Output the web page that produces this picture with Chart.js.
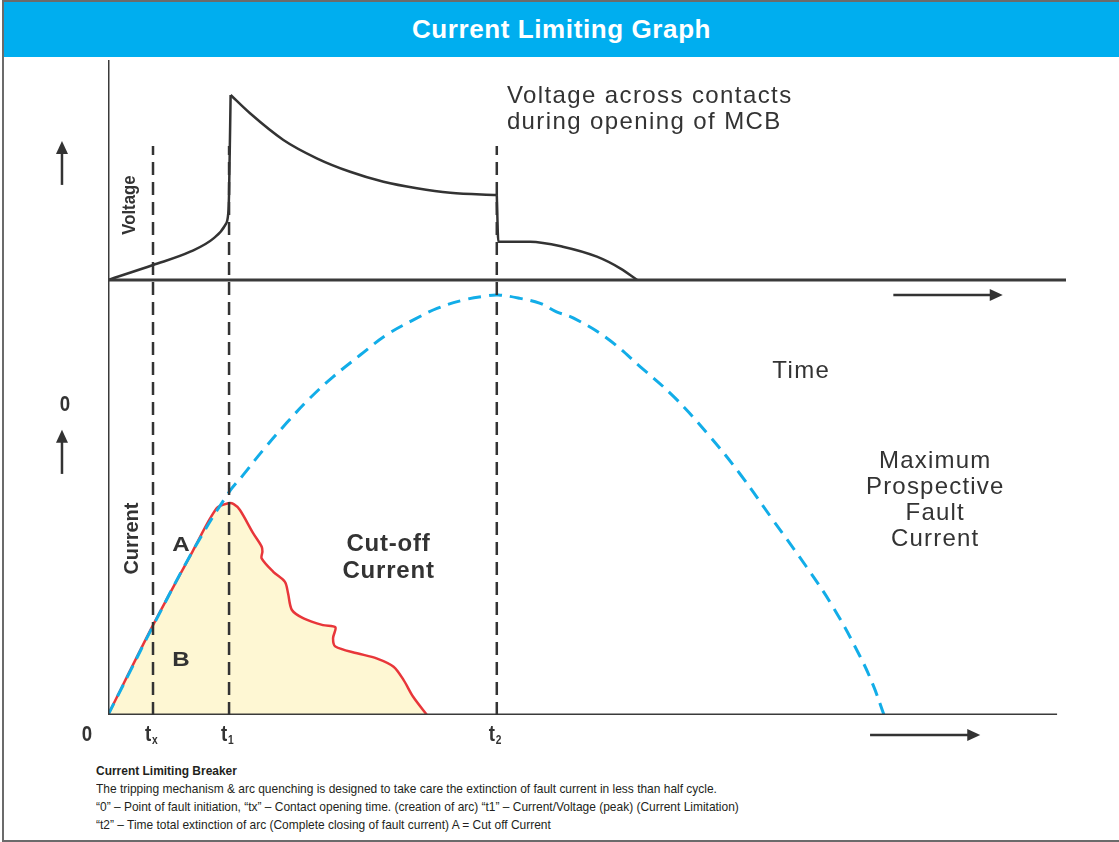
<!DOCTYPE html>
<html>
<head>
<meta charset="utf-8">
<script src="https://cdn.jsdelivr.net/npm/chart.js@4.4.1/dist/chart.umd.min.js"></script>
<style>
  body { margin: 0; background: #fff; }
  #page { position: relative; width: 1119px; height: 842px; overflow: hidden; background: #fff; }
  #frame { position: absolute; left: 2px; top: 0; width: 1117px; height: 842px; box-sizing: border-box;
           border-top: 2px solid #6b6b6b; border-left: 2px solid #6b6b6b; border-bottom: 2px solid #6b6b6b; }
  #title { position: absolute; left: 4px; top: 2px; width: 1115px; height: 55px; background: #00aeef;
           color: #fff; font: bold 26px "Liberation Sans", Arial, sans-serif; letter-spacing: 0.6px;
           text-align: center; line-height: 54px; }
  #chartBox { position: absolute; left: 0; top: 57px; width: 1119px; height: 700px; }
  #notes { position: absolute; left: 96px; top: 762px; color: #231f20; transform: scaleX(0.92); transform-origin: left top;
           font: 13px "Liberation Sans", Arial, sans-serif; line-height: 18px; white-space: nowrap; }
  #notes b { font-weight: bold; }
</style>
</head>
<body>
<div id="page">
  <div id="frame"></div>
  <div id="title">Current Limiting Graph</div>
  <div id="chartBox"><canvas id="myChart" width="1119" height="700"></canvas></div>
  <div id="notes">
    <b>Current Limiting Breaker</b><br>
    The tripping mechanism &amp; arc quenching is designed to take care the extinction of fault current in less than half cycle.<br>
    “0” – Point of fault initiation, “tx” – Contact opening time. (creation of arc) “t1” – Current/Voltage (peak) (Current Limitation)<br>
    “t2” – Time total extinction of arc (Complete closing of fault current) A = Cut off Current
  </div>
</div>
<script>
// time in ms, current in % of prospective peak, voltage in % of arc peak
const timeProspective = [0, 0.28, 0.58, 1.10, 1.55, 1.74, 2.00, 2.30, 2.60, 2.90, 3.25, 3.59, 3.93, 4.24, 4.58, 4.88, 5.03, 5.31, 5.57, 5.78, 6.00, 6.43, 6.86, 7.29, 7.72, 8.14, 8.57, 9.00, 9.35, 9.69, 9.86, 10.0];
const currentProspective = [0, 10.2, 21.2, 39.3, 52.8, 57.1, 63.1, 69.5, 75.4, 80.5, 85.7, 90.5, 94.0, 96.8, 98.8, 99.8, 100, 99.2, 98.0, 96.0, 94.5, 89.7, 82.9, 75.8, 67.1, 57.5, 46.4, 35.3, 25.5, 14.0, 7.1, 0];

const timeCutoff = [0, 0.58, 1.10, 1.40, 1.55, 1.62, 1.70, 1.87, 1.98, 1.99, 1.98, 2.13, 2.28, 2.32, 2.37, 2.52, 2.77, 2.93, 2.90, 2.93, 3.21, 3.46, 3.68, 3.81, 3.93, 4.11];
const currentCutoff = [0, 21.4, 39.3, 49.2, 50.4, 50.2, 48.8, 43.3, 40.1, 38.9, 37.3, 34.1, 31.7, 29.0, 25.0, 23.0, 21.4, 20.9, 18.3, 16.3, 14.7, 13.5, 11.5, 8.3, 4.4, 0];

const timeVoltRise = [0, 0.58, 1.06, 1.36, 1.51, 1.55, 1.56, 1.58];
const voltRise = [0, 8.1, 15.3, 22.5, 29.7, 36.1, 46.9, 100];
const timeVoltArc = [1.58, 1.83, 2.26, 2.69, 3.12, 3.55, 3.98, 4.41, 5.01];
const voltArc = [100, 90.1, 75.7, 65.8, 58.5, 53.1, 49.6, 47.2, 45.9];
const timeVoltTail = [5.01, 5.03, 5.44, 5.86, 6.30, 6.60, 6.82];
const voltTail = [45.9, 20.7, 20.7, 18.0, 12.6, 6.3, 0];

const markTimes = [0.58, 1.56, 5.01];
const markSubs = ['x', '1', '2'];
const markTop = 135.5;

const tMax = 12.345;

function pts(xs, ys) {
  return xs.map((x, i) => ({x: x, y: ys[i]}));
}

const dark = '#333333';
const font = '"Liberation Sans", Arial, sans-serif';

const datasets = [];

markTimes.forEach(function(t) {
  datasets.push({
    data: pts([t, t], [0, markTop]), yAxisID: 'yI', order: 0,
    borderColor: dark, borderWidth: 2.5, borderDash: [13, 7]
  });
});

// axis lines
datasets.push({ data: pts([0, 0], [0, 156]), yAxisID: 'yI', order: 1, borderColor: '#3a3a3a', borderWidth: 3 });
datasets.push({ data: pts([0, 12.23], [0, 0]), yAxisID: 'yI', order: 1, borderColor: '#3a3a3a', borderWidth: 3 });
datasets.push({ data: pts([0, tMax], [0, 0]), yAxisID: 'yV', order: 1, borderColor: '#3a3a3a', borderWidth: 3 });

datasets.push({
  data: pts(timeProspective, currentProspective), yAxisID: 'yI', order: 2,
  borderColor: '#12ade8', borderWidth: 3, borderDash: [13, 8], tension: 0.4
});

[[timeVoltRise, voltRise], [timeVoltArc, voltArc], [timeVoltTail, voltTail]].forEach(function(p) {
  datasets.push({
    data: pts(p[0], p[1]), yAxisID: 'yV', order: 3,
    borderColor: dark, borderWidth: 2.5, cubicInterpolationMode: 'monotone'
  });
});

datasets.push({
  data: pts(timeCutoff, currentCutoff), yAxisID: 'yI', order: 4,
  borderColor: '#e8363a', borderWidth: 2.5, tension: 0.3,
  fill: 'origin', backgroundColor: '#fef7d3'
});
datasets.push({ data: pts([0, 4.11], [0, 0]), yAxisID: 'yI', order: 4, borderColor: '#e8363a', borderWidth: 2 });

// labels placed in data units: [text, time, value, axis, style]
const notes = [
  ['Voltage across contacts', 5.14, 99.5, 'yV', 'plainL'],
  ['during opening of MCB', 5.14, 85.4, 'yV', 'plainL'],
  ['Time', 8.56, 81.7, 'yI', 'plainL'],
  ['Maximum', 10.66, 60.5, 'yI', 'plainC'],
  ['Prospective', 10.66, 54.3, 'yI', 'plainC'],
  ['Fault', 10.66, 48.1, 'yI', 'plainC'],
  ['Current', 10.66, 41.9, 'yI', 'plainC'],
  ['Cut-off', 3.615, 40.7, 'yI', 'bold'],
  ['Current', 3.615, 34.3, 'yI', 'bold'],
  ['A', 0.94, 40.5, 'yI', 'letter'],
  ['B', 0.94, 13.1, 'yI', 'letter'],
  ['0', -0.554, 73.8, 'yI', 'axis'],
  ['0', -0.271, -4.76, 'yI', 'axis']
];

const upArrows = [[-0.593, 51.4, 75.1, 'yV'], [-0.593, 57.4, 67.9, 'yI']];
const rightArrows = [[10.12, 11.53, -8.1, 'yV'], [9.82, 11.24, -4.76, 'yI']];

function drawText(ctx, s, px, py, f, align, spacing, sx) {
  ctx.save();
  ctx.font = f;
  ctx.letterSpacing = (spacing || 0) + 'px';
  ctx.textAlign = align;
  ctx.textBaseline = 'middle';
  ctx.translate(px, py);
  ctx.scale(sx || 1, 1);
  ctx.fillText(s, 0, 0);
  ctx.restore();
}

const annotate = {
  id: 'annotate',
  afterDraw(chart) {
    const ctx = chart.ctx;
    const x = chart.scales.x;
    ctx.save();
    ctx.fillStyle = dark;
    ctx.strokeStyle = dark;

    notes.forEach(function(n) {
      const px = x.getPixelForValue(n[1]);
      const py = chart.scales[n[3]].getPixelForValue(n[2]);
      if (n[4] === 'plainL') drawText(ctx, n[0], px, py, '24px ' + font, 'left', 1.4);
      if (n[4] === 'plainC') drawText(ctx, n[0], px, py, '24px ' + font, 'center', 1.2);
      if (n[4] === 'bold') drawText(ctx, n[0], px, py, 'bold 24px ' + font, 'center', 0.8);
      if (n[4] === 'letter') drawText(ctx, n[0], px, py, 'bold 21px ' + font, 'center', 0, 1.15);
      if (n[4] === 'axis') drawText(ctx, n[0], px, py, 'bold 22px ' + font, 'center', 0, 0.85);
    });

    // time marks t_x, t1, t2
    const yb = chart.scales.yI.getPixelForValue(-4.76);
    markTimes.forEach(function(t, i) {
      const px = x.getPixelForValue(t);
      drawText(ctx, 't', px - 5, yb, 'bold 22px ' + font, 'center', 0, 0.85);
      drawText(ctx, markSubs[i], px - 1, yb + 6, 'bold 12px ' + font, 'left', 0, 0.85);
    });

    // rotated axis names
    [['Voltage', 0.284, 40.5, 'yV', 'bold 19px ', 0.88], ['Current', 0.309, 42.0, 'yI', 'bold 21px ', 0.95]].forEach(function(r) {
      ctx.save();
      ctx.translate(x.getPixelForValue(r[1]), chart.scales[r[3]].getPixelForValue(r[2]));
      ctx.rotate(-Math.PI / 2);
      ctx.scale(r[5], 1);
      ctx.font = r[4] + font;
      ctx.textAlign = 'center';
      ctx.textBaseline = 'middle';
      ctx.fillText(r[0], 0, 0);
      ctx.restore();
    });

    ctx.lineWidth = 2.5;
    upArrows.forEach(function(a) {
      const px = x.getPixelForValue(a[0]);
      const y0 = chart.scales[a[3]].getPixelForValue(a[1]);
      const y1 = chart.scales[a[3]].getPixelForValue(a[2]);
      ctx.beginPath(); ctx.moveTo(px, y0); ctx.lineTo(px, y1 + 10); ctx.stroke();
      ctx.beginPath(); ctx.moveTo(px, y1); ctx.lineTo(px - 6, y1 + 13); ctx.lineTo(px + 6, y1 + 13); ctx.closePath(); ctx.fill();
    });
    rightArrows.forEach(function(a) {
      const x0 = x.getPixelForValue(a[0]);
      const x1 = x.getPixelForValue(a[1]);
      const py = chart.scales[a[3]].getPixelForValue(a[2]);
      ctx.beginPath(); ctx.moveTo(x0, py); ctx.lineTo(x1 - 10, py); ctx.stroke();
      ctx.beginPath(); ctx.moveTo(x1, py); ctx.lineTo(x1 - 13, py - 6); ctx.lineTo(x1 - 13, py + 6); ctx.closePath(); ctx.fill();
    });
    ctx.restore();
  }
};

new Chart("myChart", {
  type: "scatter",
  data: { datasets: datasets },
  options: {
    responsive: false,
    animation: false,
    devicePixelRatio: 1,
    showLine: true,
    elements: { point: { radius: 0, hoverRadius: 0 }, line: { fill: false } },
    layout: { padding: { left: 108, right: 53, top: 3, bottom: 42 } },
    scales: {
      x: { type: 'linear', min: 0, max: tMax, display: false },
      yI: { type: 'linear', min: 0, max: 155.95, display: false },
      yV: { type: 'linear', min: -235.14, max: 118.92, display: false }
    },
    plugins: { legend: { display: false }, tooltip: { enabled: false } }
  },
  plugins: [annotate]
});
</script>
</body>
</html>
